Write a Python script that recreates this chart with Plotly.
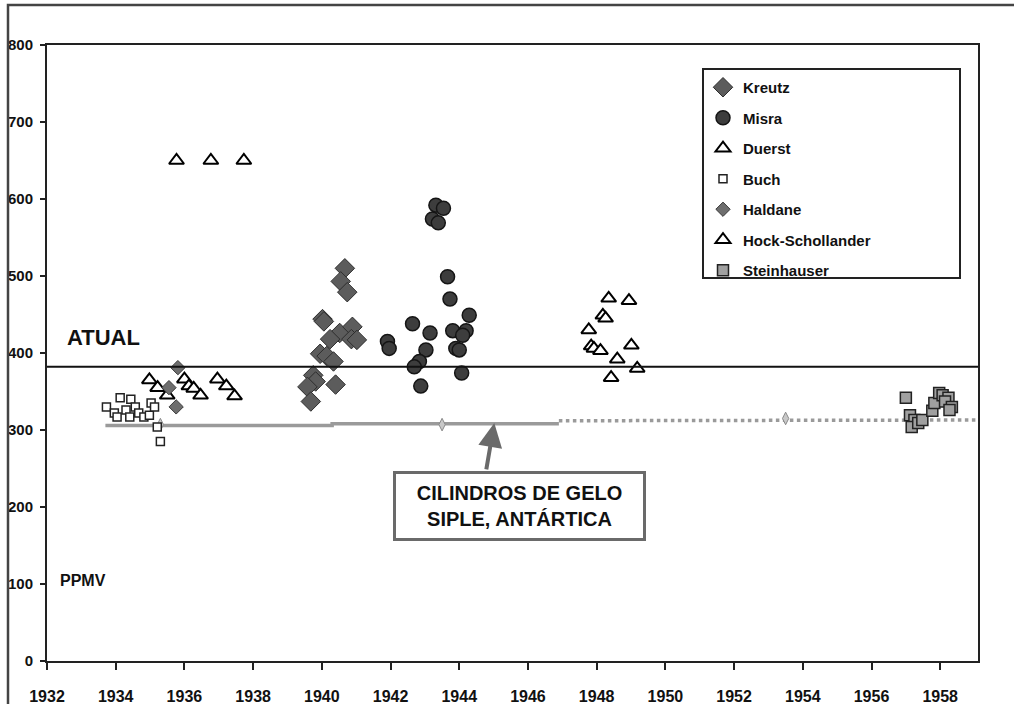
import plotly.graph_objects as go

# ---------------- data ----------------
kreutz_year = [1940.67, 1940.55, 1940.74, 1940.02, 1940.06, 1940.52, 1940.24, 1940.89, 1940.86,
               1941.02, 1939.95, 1940.14, 1940.34, 1939.75, 1939.82, 1939.58, 1939.68, 1940.40]
kreutz_ppm = [510, 493, 479, 444, 441, 426, 418, 434, 418,
              417, 399, 396, 389, 371, 363, 356, 337, 359]

misra_year = [1943.32, 1943.54, 1943.22, 1943.39, 1943.66, 1943.73, 1944.29, 1942.64, 1943.15,
              1943.81, 1944.20, 1944.10, 1941.91, 1941.96, 1943.03, 1943.90, 1944.00, 1942.84,
              1942.69, 1944.07, 1942.88]
misra_ppm = [592, 588, 574, 569, 499, 470, 449, 438, 426,
             429, 429, 423, 415, 406, 404, 406, 404, 389,
             382, 374, 357]

duerst_year = [1935.77, 1936.77, 1937.73, 1934.98, 1935.22, 1935.50, 1936.00, 1936.13, 1936.27,
               1936.47, 1936.96, 1937.22, 1937.46]
duerst_ppm = [650, 650, 650, 365, 355, 345, 366, 357, 354,
              345, 366, 357, 344]

buch_year = [1933.73, 1934.13, 1934.44, 1933.96, 1934.04, 1934.30, 1934.41, 1934.57, 1934.67,
             1934.82, 1934.98, 1935.03, 1935.13, 1935.21, 1935.30]
buch_ppm = [330, 342, 340, 322, 317, 326, 317, 330, 322,
            317, 319, 335, 330, 304, 285]

haldane_year = [1935.81, 1935.55, 1935.76]
haldane_ppm = [381, 355, 330]

hock_year = [1948.35, 1948.94, 1948.18, 1948.26, 1947.77, 1947.84, 1947.92, 1948.11, 1949.01,
             1948.60, 1949.18, 1948.42]
hock_ppm = [471, 468, 449, 445, 430, 409, 406, 403, 410,
            392, 380, 368]

stein_year = [1957.00, 1957.12, 1957.25, 1957.17, 1957.36, 1957.48, 1957.77, 1957.83, 1957.97,
              1958.07, 1958.24, 1958.14, 1958.34, 1958.27]
stein_ppm = [342, 319, 313, 304, 309, 313, 325, 335, 348,
             345, 342, 337, 330, 326]

# Siple ice-core curve (solid part, dotted part) and its sample markers
siple_solid_year = [1933.7, 1940.3, 1946.9]
siple_solid_ppm = [306, 308, 308]
siple_dot_year = [1946.9, 1959.1]
siple_dot_ppm = [312, 313]
siple_pt_year = [1935.3, 1943.5, 1953.5]
siple_pt_ppm = [307, 307, 315]

atual_ppm = 382
x_ticks = list(range(1932, 1960, 2))
y_ticks = list(range(0, 900, 100))

# arrow / label positions (data units)
arrow_head = (1945.02, 309)
arrow_tail = (1944.78, 247)
box_center = (1945.76, 201)

FONT = "Liberation Sans, Arial, sans-serif"

fig = go.Figure()


def add(name, xs, ys, symbol, size, color, lcolor, lwidth):
    fig.add_trace(go.Scatter(
        x=xs, y=ys, mode="markers", name=name, legendgroup=name,
        marker=dict(symbol=symbol, size=size, color=color,
                    line=dict(color=lcolor, width=lwidth))))


# Siple lines first (below markers)
fig.add_trace(go.Scatter(x=siple_solid_year, y=siple_solid_ppm, mode="lines", line_shape="hv",
                         line=dict(color="#9a9a9a", width=3.5), showlegend=False, hoverinfo="skip"))
fig.add_trace(go.Scatter(x=siple_dot_year, y=siple_dot_ppm, mode="lines",
                         line=dict(color="#9a9a9a", width=3.5, dash="dot"), showlegend=False,
                         hoverinfo="skip"))
fig.add_trace(go.Scatter(x=siple_pt_year, y=siple_pt_ppm, mode="markers", showlegend=False,
                         marker=dict(symbol="diamond-tall", size=9, color="#c8c8c8",
                                     line=dict(color="#8a8a8a", width=1))))

add("Kreutz", kreutz_year, kreutz_ppm, "diamond", 15, "#5c5c5c", "#2e2e2e", 1)
add("Misra", misra_year, misra_ppm, "circle", 14, "#3d3d3d", "#151515", 1.5)
add("Duerst", duerst_year, duerst_ppm, "triangle-up", 13, "white", "#000000", 2)
add("Buch", buch_year, buch_ppm, "square", 8, "white", "#222222", 1.5)
add("Haldane", haldane_year, haldane_ppm, "diamond", 11, "#6e6e6e", "#3a3a3a", 1)
add("Hock-Schollander", hock_year, hock_ppm, "triangle-up", 13, "white", "#000000", 2)
add("Steinhauser", stein_year, stein_ppm, "square", 11, "#a0a0a0", "#222222", 1.5)

# ATUAL horizontal line
fig.add_shape(type="line", xref="paper", yref="y", x0=0, x1=1, y0=atual_ppm, y1=atual_ppm,
              line=dict(color="#111111", width=2))

# legend box
fig.add_shape(type="rect", xref="paper", yref="paper",
              x0=(703 - 47) / 931, x1=(960 - 47) / 931,
              y0=(661 - 278) / 616, y1=(661 - 69) / 616,
              line=dict(color="#222222", width=2), fillcolor="rgba(0,0,0,0)")

# outer frame of the picture (left and top edges)
fig.add_shape(type="path", xref="paper", yref="paper",
              path="M {:.5f},{:.5f} L {:.5f},{:.5f} L {:.5f},{:.5f}".format(
                  (8 - 47) / 931, (661 - 710) / 616,
                  (8 - 47) / 931, (661 - 5) / 616,
                  (1020 - 47) / 931, (661 - 5) / 616),
              line=dict(color="#444444", width=2.5))

fig.add_annotation(x=1933.64, y=419.5, text="<b>ATUAL</b>", showarrow=False,
                   font=dict(family=FONT, size=22, color="#111111"))
fig.add_annotation(x=1933.05, y=104, text="<b>PPMV</b>", showarrow=False,
                   font=dict(family=FONT, size=16, color="#111111"))

# arrow
fig.add_annotation(x=arrow_head[0], y=arrow_head[1], ax=arrow_tail[0], ay=arrow_tail[1],
                   axref="x", ayref="y", text="", showarrow=True, arrowhead=2, arrowsize=1.2,
                   arrowwidth=4, arrowcolor="#6a6a6a")
# box
fig.add_annotation(x=box_center[0], y=box_center[1],
                   text="<b>CILINDROS DE GELO<br>SIPLE, ANTÁRTICA</b>", showarrow=False,
                   font=dict(family=FONT, size=20, color="#111111"),
                   width=243, height=60, borderpad=2, bordercolor="#6a6a6a", borderwidth=3,
                   bgcolor="white", align="center")

fig.update_layout(
    width=1014, height=704,
    margin=dict(l=47, r=36, t=45, b=43, autoexpand=False),
    paper_bgcolor="white", plot_bgcolor="white",
    showlegend=True,
    legend=dict(x=(703 - 47) / 931, y=(661 - 71) / 616, xanchor="left", yanchor="top",
                bgcolor="rgba(0,0,0,0)", borderwidth=0, tracegroupgap=8,
                font=dict(family=FONT, size=15, color="#111111", weight="bold")),
    xaxis=dict(range=[1932, 1959.1], tickmode="array", tickvals=x_ticks, automargin=False,
               showgrid=False, zeroline=False, showline=True, linecolor="#222222", linewidth=2,
               mirror=True, ticks="outside", ticklen=7, tickwidth=2, tickcolor="#222222",
               ticklabelstandoff=13,
               tickfont=dict(family=FONT, size=16, color="#111111", weight="bold")),
    yaxis=dict(range=[0, 800], tickmode="array", tickvals=y_ticks, automargin=False,
               showgrid=False, zeroline=False, showline=True, linecolor="#222222", linewidth=2,
               mirror=True, ticks="outside", ticklen=5, tickwidth=2, tickcolor="#222222",
               ticklabelstandoff=4,
               tickfont=dict(family=FONT, size=15, color="#111111", weight="bold")),
)

fig.write_html("out.html", config={"displayModeBar": False},
               post_script="document.body.style.margin='0';")
